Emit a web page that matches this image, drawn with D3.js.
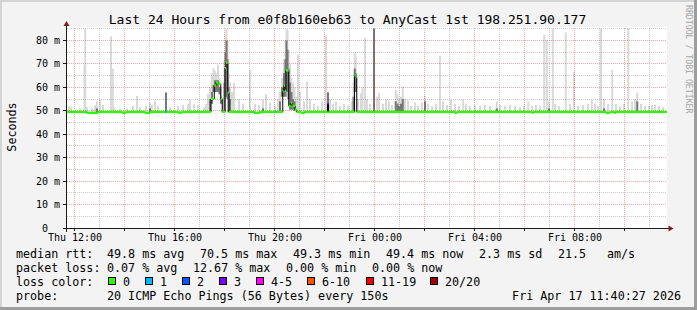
<!DOCTYPE html>
<html>
<head>
<meta charset="utf-8">
<script src="https://cdn.jsdelivr.net/npm/d3@7"></script>
<style>
  html, body { margin: 0; padding: 0; background: #f3f3f3; }
  svg { display: block; }
  text { font-family: "DejaVu Sans Mono", monospace; fill: #000; }
</style>
</head>
<body>
<script>
// ---- chart values (time = hours since Thu 00:00, UTC) ----
const titleText = "Last 24 Hours from e0f8b160eb63 to AnyCast 1st 198.251.90.177";
const yLabel = "Seconds";
const watermark = "RRDTOOL / TOBI OETIKER";
const timeStart = 11.7, timeEnd = 35.7;
const yMax = 85.3;               // ms
const yTicks = [0, 10, 20, 30, 40, 50, 60, 70, 80];
const yMinor = [5, 15, 25, 35, 45, 55, 65, 75, 85];

// median rtt steps: [hour, ms, loss class index]
const median = [
  [11.70, 49.5, 0], [12.46, 49.4, 1], [12.50, 49.1, 0], [12.94, 49.5, 0],
  [13.90, 49.2, 0], [14.06, 49.5, 0], [14.82, 49.1, 0], [15.02, 49.5, 0],
  [15.64, 49.5, 1], [15.70, 49.5, 0], [16.14, 49.2, 0], [16.30, 49.5, 0],
  [17.46, 55.1, 0], [17.59, 60.8, 0], [17.66, 62.1, 0], [17.75, 61.4, 0],
  [17.85, 55.1, 0], [17.91, 49.6, 0], [18.02, 68.2, 0], [18.06, 70.5, 0],
  [18.13, 57.8, 0], [18.18, 49.5, 0], [19.20, 49.1, 0], [19.40, 49.5, 0],
  [20.04, 49.5, 1], [20.08, 49.5, 0], [20.33, 58.3, 0], [20.37, 60.7, 0],
  [20.42, 58.5, 0], [20.46, 67.2, 0], [20.57, 52.0, 0], [20.65, 53.3, 0],
  [20.71, 52.1, 0], [20.82, 50.4, 0], [20.89, 49.5, 0], [21.06, 49.1, 0],
  [21.20, 49.5, 0], [22.12, 52.9, 3], [22.16, 49.5, 0], [23.20, 65.0, 0],
  [23.25, 64.4, 0], [23.29, 49.5, 0], [27.22, 49.1, 0], [27.30, 49.5, 0],
  [30.30, 49.2, 0], [30.36, 49.5, 0], [33.26, 49.1, 0], [33.42, 49.5, 0],
  [33.60, 49.2, 0], [33.66, 49.5, 0]
];

// smoke: [hour, highest ping ms, inner band ms (0 = none), lowest ping ms (optional)]
const smoke = [
  [11.78,52,0],[11.86,51.5,0],[12.22,51,0],[12.40,69.6,0],[12.43,85,0],[12.50,51.5,0],
  [12.70,51,0],[12.82,52.4,0],[12.90,54,51],[13.02,54.6,0],[13.14,52.5,0],[13.46,81.7,0],
  [13.53,68,0],[13.58,51.5,0],[13.82,51,0],[14.10,51,0],[14.34,52,0],[14.50,56.3,0],
  [14.62,51.5,0],[14.86,52,0],[15.02,53.5,51],[15.10,52.5,0],[15.22,54.3,0],[15.34,52,0],
  [15.66,57.8,57.8],[15.82,51.5,0],[16.14,52,0],[16.34,52.5,0],[16.54,53,0],[16.62,54.7,0],
  [16.78,53,0],[16.94,52.5,0],[17.18,51.5,0],
  [17.26,53,0],[17.34,57,0],[17.42,60,55],[17.50,66,58,53],[17.56,68.2,61,58],[17.62,67,63,58],
  [17.68,66,63,58],[17.74,69.6,63,58],[17.80,64,60,57],[17.86,60,56,53],[17.92,55,0],
  [18.00,72,62],[18.04,82,75,56],[18.08,85,80,56],[18.12,80,72,55],[18.16,66,60],[18.22,62,55],
  [18.30,58,0],[18.38,61.8,0],[18.58,55,0],[18.74,53,0],[19.02,67.5,0],[19.22,53,0],
  [19.38,52.5,0],[19.54,54.7,51],[19.66,57,0],[19.82,53.5,0],[20.02,52,0],
  [20.14,55,0],[20.22,58,54],[20.30,64,60,56],[20.38,72,66,56],[20.44,80,72,56],[20.48,85,80,58],
  [20.52,84.5,76,58],[20.56,76,68,55],[20.62,70,62,50.5],[20.68,64,58,50.5],[20.74,62,55,50.5],
  [20.80,60,54,50],[20.86,56,0],[20.94,73.9,0],[21.02,58,0],[21.18,54,0],[21.30,62.5,0],
  [21.42,55,0],[21.58,53,0],[21.74,52,0],[21.90,54,0],[22.06,82,0],[22.14,57.8,57.8],
  [22.22,55,0],[22.34,53,0],[22.46,54,0],[22.62,52,0],[22.78,53,0],[22.94,52,0],
  [23.10,54,0],[23.16,62,56],[23.21,75,68,58],[23.25,73,66,58],[23.34,55,0],[23.46,57.5,0],
  [23.52,60,0],[23.62,81,0],[23.70,55,0],[23.82,53,0],[23.98,85,85],[24.10,56,0],
  [24.18,57.6,0],[24.34,53,0],[24.46,55,0],[24.58,54,0],[24.70,52.5,0],[24.85,59,54],
  [24.92,57,53],[24.98,55,52],[25.06,56,53],[25.13,60.4,55],[25.22,55,0],[25.34,54.5,0],
  [25.46,52,0],[25.62,53.5,0],[25.74,52,0],[25.90,53.5,0],[26.02,56.4,54],[26.14,53,0],
  [26.30,52,0],[26.46,53,0],[26.62,73.5,0],[26.74,54,0],[26.90,52.5,0],[27.06,54.7,0],
  [27.22,53,0],[27.38,52,0],[27.55,54.7,0],[27.66,53,0],[27.82,52,0],[28.02,52.5,0],
  [28.22,52,0],[28.42,52.5,0],[28.62,52,0],[28.89,54,51],[29.02,52.5,0],[29.22,52,0],
  [29.42,52.5,0],[29.62,52,0],[29.82,51.5,0],[29.98,52,0],[30.15,54,0],[30.30,52,0],
  [30.46,52.5,0],[30.62,52,0],[30.79,82.4,0],[30.89,80.3,0],[30.98,54,51],[31.13,85,0],
  [31.22,53,0],[31.38,52,0],[31.65,83.4,0],[31.82,53,0],[31.98,66.8,0],[32.14,52,0],
  [32.34,52.5,0],[32.54,53,0],[32.69,54.7,0],[32.82,53,0],[32.94,52,0],[33.06,85,0],
  [33.18,55,51],[33.34,53,0],[33.51,67.5,0],[33.66,53,0],[33.82,52,0],[33.98,53,0],
  [34.15,85,0],[34.30,54,0],[34.42,55,0],[34.51,57.8,54],[34.66,53,0],[34.82,52,0],
  [34.98,52,0],[35.10,52.5,0],[35.22,52.6,0],[35.38,52,0],[35.54,51.5,0]
];
const smokeBase = 49.3;

// legend
const rttStats = [["49.8", "ms avg"], ["70.5", "ms max"], ["49.3", "ms min"], ["49.4", "ms now"], ["2.3", "ms sd"]];
const amPerSec = ["21.5", "am/s"];
const lossStats = [["0.07", "% avg"], ["12.67", "% max"], ["0.00", "% min"], ["0.00", "% now"]];
const lossClasses = ["0", "1", "2", "3", "4-5", "6-10", "11-19", "20/20"];
const lossColors = ["#26ff00", "#00b8ff", "#0059ff", "#7e00ff", "#ff00ff", "#ff5500", "#ff0000", "#a10000"];
const probeText = "20 ICMP Echo Pings (56 Bytes) every 150s";
const stampText = "Fri Apr 17 11:40:27 2026";

// ---- drawing ----
const W = 697, H = 310;
const plot = {left: 67, top: 28, width: 600, height: 200};
const bottom = plot.top + plot.height;
const baseMs = Date.UTC(2026, 3, 16);
const toDate = h => new Date(baseMs + h * 3600000);

const svg = d3.select("body").append("svg")
  .attr("width", W).attr("height", H);

// background + 3d frame
svg.append("rect").attr("width", W).attr("height", H).attr("fill", "#f3f3f3");
svg.append("rect").attr("width", W).attr("height", 2).attr("fill", "#d4d4d4");
svg.append("rect").attr("width", 2).attr("height", H).attr("fill", "#d4d4d4");
svg.append("rect").attr("x", 0).attr("y", H - 3).attr("width", W).attr("height", 3).attr("fill", "#9d9d9d");
svg.append("rect").attr("x", W - 3).attr("y", 0).attr("width", 3).attr("height", H).attr("fill", "#9d9d9d");

// canvas
svg.append("rect")
  .attr("x", plot.left).attr("y", plot.top - 1)
  .attr("width", plot.width).attr("height", plot.height + 1)
  .attr("fill", "#fff");

let x = d3.scaleUtc()
  .domain([toDate(timeStart), toDate(timeEnd)])
  .range([plot.left, plot.left + plot.width]);
let y = d3.scaleLinear()
  .domain([0, yMax])
  .range([bottom, plot.top]);
const px = h => x(toDate(h));

// smoke (outer light, inner darker)
svg.append("g").selectAll("rect")
  .data(smoke).join("rect")
  .attr("x", d => px(d[0]) - 1)
  .attr("width", 2)
  .attr("y", d => y(d[1]))
  .attr("height", d => y(d[3] || smokeBase) - y(d[1]))
  .attr("fill", "#d9d9d9");
svg.append("g").selectAll("rect")
  .data(smoke.filter(d => d[2] > 0)).join("rect")
  .attr("x", d => px(d[0]) - 1)
  .attr("width", 2)
  .attr("y", d => y(d[2]))
  .attr("height", d => y(d[3] || smokeBase) - y(d[2]))
  .attr("fill", "#777");

// grid (drawn over smoke, semi transparent like rrdtool)
const grid = svg.append("g").attr("stroke-dasharray", "1,1").attr("stroke-width", 1);
const hours = x.ticks(d3.utcHour.every(1));
grid.selectAll("line.v").data(hours).join("line")
  .attr("x1", d => Math.floor(x(d)) + 0.5).attr("x2", d => Math.floor(x(d)) + 0.5)
  .attr("y1", plot.top).attr("y2", bottom)
  .attr("stroke", d => d.getUTCHours() % 2 === 0 ? "rgba(240,40,40,0.42)" : "rgba(120,120,120,0.38)");
grid.selectAll("line.h").data(yMinor.filter(v => v <= yMax).concat(yTicks.filter(v => v > 0))).join("line")
  .attr("x1", plot.left).attr("x2", plot.left + plot.width)
  .attr("y1", d => Math.floor(y(d)) + 0.5).attr("y2", d => Math.floor(y(d)) + 0.5)
  .attr("stroke", d => d % 10 === 0 ? "rgba(240,40,40,0.42)" : "rgba(120,120,120,0.38)");

// median line (black step) + loss coloured band
const medPts = median.concat([[timeEnd, median[median.length - 1][1], 0]]);
svg.append("path")
  .attr("d", d3.line().x(d => px(d[0])).y(d => y(d[1])).curve(d3.curveStepAfter)(medPts))
  .attr("fill", "none").attr("stroke", "#000").attr("stroke-width", 1);
svg.append("g").selectAll("rect")
  .data(median).join("rect")
  .attr("x", d => px(d[0]))
  .attr("width", (d, i) => px(medPts[i + 1][0]) - px(d[0]))
  .attr("y", d => y(d[1]) - 1.2)
  .attr("height", 2.4)
  .attr("fill", d => lossColors[d[2]]);

// axes
const axisColor = "#1a1a1a", arrowColor = "#7f1d1d";
svg.append("line").attr("x1", plot.left - 0.5).attr("x2", plot.left - 0.5)
  .attr("y1", bottom + 4).attr("y2", plot.top - 3).attr("stroke", axisColor);
svg.append("line").attr("x1", plot.left - 4).attr("x2", plot.left + plot.width + 2)
  .attr("y1", bottom + 0.5).attr("y2", bottom + 0.5).attr("stroke", axisColor);
svg.append("path").attr("d", `M${plot.left - 0.5},${plot.top - 7} l-3,5 h6 z`).attr("fill", arrowColor);
svg.append("path").attr("d", `M${plot.left + plot.width + 6.5},${bottom + 0.5} l-5,-3 v6 z`).attr("fill", arrowColor);

// y ticks + labels
svg.append("g").selectAll("line").data(yTicks).join("line")
  .attr("x1", plot.left - 4).attr("x2", plot.left)
  .attr("y1", d => Math.floor(y(d)) + 0.5).attr("y2", d => Math.floor(y(d)) + 0.5)
  .attr("stroke", axisColor);
svg.append("g").selectAll("text").data(yTicks).join("text")
  .attr("x", d => d === 0 ? 48 : 60)
  .attr("y", d => y(d) + 3.6)
  .attr("text-anchor", "end")
  .attr("font-size", 10)
  .text(d => d === 0 ? "0" : d + " m");

// x ticks + labels
const twoHours = x.ticks(d3.utcHour.every(2));
svg.append("g").selectAll("line").data(twoHours).join("line")
  .attr("x1", d => Math.floor(x(d)) + 0.5).attr("x2", d => Math.floor(x(d)) + 0.5)
  .attr("y1", bottom).attr("y2", bottom + 3)
  .attr("stroke", axisColor);
const fmt = d3.utcFormat("%a %H:%M");
svg.append("g").selectAll("text").data(x.ticks(d3.utcHour.every(4))).join("text")
  .attr("x", d => x(d) + 0.5)
  .attr("y", 241)
  .attr("text-anchor", "middle")
  .attr("font-size", 10)
  .text(d => fmt(d));

// title, axis label, watermark
svg.append("text").attr("x", 347.5).attr("y", 24).attr("text-anchor", "middle")
  .attr("font-size", 13).text(titleText);
svg.append("text").attr("transform", "translate(15.5,127) rotate(-90)")
  .attr("text-anchor", "middle").attr("font-size", 11.7).text(yLabel);
svg.append("text").attr("transform", "translate(685.5,5) rotate(90)")
  .attr("font-size", 8.2).style("fill", "#a6a6a6").text(watermark);

// legend
const lg = svg.append("g").attr("font-size", 11.7);
const put = (tx, ty, s, anchor) => lg.append("text").attr("x", tx).attr("y", ty)
  .attr("text-anchor", anchor || "start").style("white-space", "pre").text(s);

put(16, 258, "median rtt:");
[107, 200, 293, 386, 479].forEach((cx, i) => put(cx, 258, rttStats[i][0] + " " + rttStats[i][1]));
put(558, 258, amPerSec[0]);
put(607, 258, amPerSec[1]);

put(16, 272, "packet loss:");
[107, 193, 286, 372].forEach((cx, i) => put(cx, 272, lossStats[i][0] + " " + lossStats[i][1]));

put(16, 286, "loss color:");
const boxX = [108.5, 145.5, 182.5, 219.5, 256.5, 307.5, 366.5, 430.5];
lossClasses.forEach((c, i) => {
  lg.append("rect").attr("x", boxX[i]).attr("y", 277.5).attr("width", 7).attr("height", 7)
    .attr("fill", lossColors[i]).attr("stroke", "#000").attr("stroke-width", 1);
  put(boxX[i] + 14.5, 286, c);
});

put(16, 300, "probe:");
put(107, 300, probeText);
put(681, 300, stampText, "end");
</script>
</body>
</html>
